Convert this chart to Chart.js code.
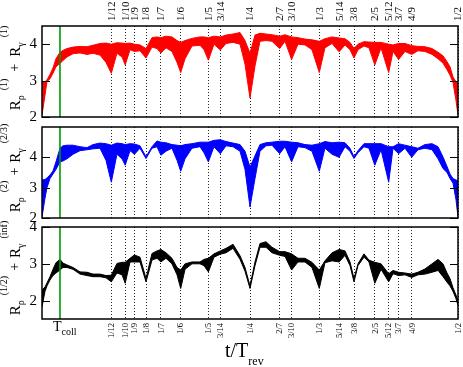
<!DOCTYPE html>
<html><head><meta charset="utf-8">
<script src="https://cdn.jsdelivr.net/npm/chart.js@4.4.1/dist/chart.umd.min.js"></script>
<style>
html,body{margin:0;padding:0;background:#fff;}
#wrap{position:relative;width:463px;height:367px;overflow:hidden;background:#fff;}
#wrap canvas{position:absolute;left:0;top:0;}
</style></head><body>
<div id="wrap">
<canvas id="c1" width="463" height="367"></canvas>
<canvas id="c2" width="463" height="367"></canvas>
<canvas id="c3" width="463" height="367"></canvas>
</div>
<script>
// time axis nodes (t / T_rev)
const tValues = [0, 0.0036, 0.006, 0.0096, 0.0132, 0.0168, 0.0216, 0.0252, 0.03, 0.0373,
 0.0457, 0.0541, 0.0613, 0.0697, 0.0769, 0.0833, 0.0901, 0.0962, 0.1, 0.1058,
 0.1111, 0.1178, 0.125, 0.1322, 0.1382, 0.1429, 0.149, 0.1562, 0.1623, 0.1667,
 0.1719, 0.1803, 0.1899, 0.1947, 0.2, 0.2067, 0.2143, 0.2212, 0.2296, 0.238,
 0.244, 0.25, 0.256, 0.262, 0.2692, 0.2764, 0.2857, 0.2921, 0.3, 0.3077,
 0.3161, 0.3245, 0.3333, 0.3401, 0.3486, 0.3571, 0.3642, 0.3702, 0.375, 0.3798,
 0.387, 0.393, 0.4, 0.4075, 0.4167, 0.4219, 0.4286, 0.4363, 0.4444, 0.4519,
 0.4603, 0.4688, 0.476, 0.482, 0.4868, 0.4904, 0.494, 0.4976, 0.5];

// panel 1 (red): R_rho^(1) + R_gamma^(1), lower / upper envelope
const redLow = [2.05, 2.6, 2.97, 3.05, 3.2, 3.38, 3.47, 3.55, 3.65, 3.74,
 3.76, 3.72, 3.75, 3.7, 3.5, 3.2, 3.75, 3.65, 3.43, 3.85,
 3.8, 3.82, 3.62, 3.92, 3.88, 3.76, 3.9, 3.8, 3.5, 3.22,
 3.6, 3.95, 3.97, 3.85, 3.56, 4.0, 3.84, 4.02, 4.05, 4.0,
 3.45, 2.52, 3.4, 4.08, 4.1, 4.08, 3.88, 4.08, 3.58, 4.0,
 3.98, 3.85, 3.22, 3.9, 4.02, 3.79, 3.98, 3.85, 3.62, 3.85,
 3.95, 3.9, 3.43, 3.9, 3.22, 3.8, 3.58, 3.8, 3.72, 3.82,
 3.8, 3.72, 3.6, 3.48, 3.3, 3.15, 2.95, 2.45, 2.05];
const redHigh = [2.95, 2.97, 3.02, 3.17, 3.35, 3.6, 3.78, 3.83, 3.88, 3.92,
 3.94, 3.93, 3.97, 4.02, 4.03, 4.0, 4.04, 4.03, 4.02, 4.03,
 4.0, 3.98, 3.88, 4.18, 4.2, 4.18, 4.22, 4.2, 4.1, 4.05,
 4.1, 4.16, 4.2, 4.2, 4.18, 4.22, 4.2, 4.25, 4.28, 4.32,
 4.1, 3.75, 4.25, 4.3, 4.28, 4.26, 4.22, 4.26, 4.2, 4.18,
 4.14, 4.12, 4.08, 4.15, 4.2, 4.17, 4.15, 4.05, 3.88, 4.0,
 4.07, 4.06, 4.05, 4.05, 4.0, 3.98, 4.02, 4.02, 3.96, 3.94,
 3.93, 3.88, 3.78, 3.68, 3.52, 3.38, 3.1, 2.97, 2.95];

// panel 2 (blue): R_rho^(2) + R_gamma^(2/3)
const blueLow = [2.03, 2.65, 3.0, 3.3, 3.45, 3.6, 3.85, 3.88, 3.95, 4.1,
 4.22, 4.25, 4.28, 4.3, 3.9, 3.18, 4.1, 3.95, 3.74, 4.22,
 4.1, 4.3, 3.96, 4.3, 4.35, 4.07, 4.2, 4.3, 3.9, 3.54,
 3.95, 4.3, 4.35, 4.15, 3.85, 4.35, 4.12, 4.38, 4.35, 4.2,
 3.6, 2.36, 3.3, 4.2, 4.38, 4.4, 4.12, 4.35, 3.85, 4.35,
 4.32, 4.2, 3.54, 4.3, 4.1, 4.0, 4.35, 4.2, 3.96, 4.15,
 4.35, 4.3, 3.74, 4.25, 3.18, 4.3, 4.12, 4.3, 4.0, 4.25,
 4.3, 4.25, 3.95, 3.63, 3.5, 3.3, 3.15, 2.6, 2.03];
const blueHigh = [3.25, 3.27, 3.32, 3.42, 3.55, 3.85, 4.3, 4.38, 4.4, 4.4,
 4.35, 4.32, 4.42, 4.47, 4.45, 4.4, 4.47, 4.45, 4.42, 4.45,
 4.44, 4.38, 4.02, 4.35, 4.54, 4.5, 4.48, 4.42, 4.4, 4.38,
 4.42, 4.45, 4.5, 4.5, 4.5, 4.56, 4.58, 4.52, 4.47, 4.42,
 4.2, 3.68, 4.05, 4.42, 4.48, 4.5, 4.53, 4.53, 4.5, 4.48,
 4.42, 4.4, 4.45, 4.52, 4.48, 4.5, 4.48, 4.3, 4.02, 4.22,
 4.45, 4.45, 4.45, 4.45, 4.35, 4.35, 4.45, 4.4, 4.35, 4.3,
 4.42, 4.45, 4.35, 4.01, 3.7, 3.45, 3.3, 3.25, 3.24];

// panel 3 (black): R_rho^(1/2) + R_gamma^(inf)
const blackLow = [1.83, 2.25, 2.4, 2.56, 2.68, 2.75, 2.83, 2.9, 2.9, 2.85,
 2.72, 2.68, 2.65, 2.65, 2.62, 2.51, 2.75, 2.7, 2.47, 3.05,
 3.05, 3.05, 2.51, 3.1, 3.15, 3.05, 3.15, 3.0, 2.7, 2.33,
 2.85, 3.0, 3.0, 2.95, 2.78, 3.18, 3.26, 3.3, 3.42, 3.12,
 2.8, 2.33, 2.95, 3.45, 3.45, 3.3, 3.23, 3.2, 2.83, 3.05,
 3.05, 2.9, 2.33, 3.03, 3.08, 3.05, 3.23, 2.95, 2.51, 2.95,
 3.18, 3.05, 2.47, 2.85, 2.51, 2.73, 2.68, 2.7, 2.63, 2.7,
 2.72, 2.77, 2.82, 2.65, 2.5, 2.4, 2.25, 2.05, 1.87];
const blackHigh = [2.29, 2.37, 2.48, 2.65, 2.85, 3.03, 3.12, 3.02, 2.97, 2.9,
 2.78, 2.77, 2.72, 2.72, 2.68, 2.69, 3.01, 3.04, 3.04, 3.15,
 3.24, 3.18, 2.6, 3.28, 3.35, 3.39, 3.3, 3.15, 2.9, 2.83,
 3.0, 3.05, 3.05, 3.12, 3.15, 3.27, 3.35, 3.42, 3.53, 3.22,
 2.9, 2.4, 3.05, 3.55, 3.6, 3.45, 3.33, 3.33, 3.27, 3.15,
 3.15, 3.04, 2.83, 3.08, 3.3, 3.39, 3.35, 3.05, 2.6, 3.0,
 3.27, 3.1, 3.04, 3.0, 2.73, 2.82, 2.77, 2.75, 2.72, 2.77,
 2.86, 3.0, 3.12, 3.0, 2.75, 2.6, 2.35, 2.15, 2.0];

// fractional revival times (tick positions) and their labels
const fracValues = [0.08333, 0.1, 0.11111, 0.125, 0.14286, 0.16667, 0.2, 0.21429, 0.25, 0.28571,
 0.3, 0.33333, 0.35714, 0.375, 0.4, 0.41667, 0.42857, 0.44444, 0.5];
const fracLabels = ['1/12','1/10','1/9','1/8','1/7','1/6','1/5','3/14','1/4','2/7',
 '3/10','1/3','5/14','3/8','2/5','5/12','3/7','4/9','1/2'];
const yTicks = [2, 3, 4];
const tColl = 0.0216;

const SERIF = '"Liberation Serif", "Times New Roman", serif';

function pts(arr){ return tValues.map((t,i)=>({x:t, y:arr[i]})); }

function drawYTitle(ctx, parts, baseX, centerY){
  ctx.save();
  ctx.fillStyle = '#000';
  ctx.textBaseline = 'alphabetic';
  ctx.textAlign = 'left';
  let total = 0;
  parts.forEach(p => { ctx.font = p.s + 'px ' + SERIF; p.w = ctx.measureText(p.t).width; total += p.w + p.g; });
  ctx.translate(baseX, centerY + total/2);
  ctx.rotate(-Math.PI/2);
  let x = 0;
  parts.forEach(p => { ctx.font = p.s + 'px ' + SERIF; ctx.fillText(p.t, x, p.dy); x += p.w + p.g; });
  ctx.restore();
}

function drawFracLabels(chart, cfg){
  const {ctx, chartArea: a, scales} = chart;
  ctx.save();
  ctx.fillStyle = '#000';
  ctx.font = cfg.xFont + 'px ' + SERIF;
  ctx.textBaseline = 'middle';
  fracValues.forEach((v, i) => {
    const px = scales.x.getPixelForValue(v);
    ctx.save();
    if (cfg.xPos === 'top') {
      ctx.translate(px + 0.5, a.top - cfg.xPad);
      ctx.rotate(-Math.PI/2);
      ctx.textAlign = 'left';
    } else {
      ctx.translate(px + 0.5, a.bottom + cfg.xPad);
      ctx.rotate(-Math.PI/2);
      ctx.textAlign = 'right';
    }
    ctx.fillText(fracLabels[i], 0, 0);
    ctx.restore();
  });
  ctx.restore();
}

function framePlugin(cfg){
  return {
    id: 'frame' + cfg.id,
    afterDatasetsDraw(chart){
      const {ctx, chartArea: a, scales} = chart;
      ctx.save();
      const gx = scales.x.getPixelForValue(tColl);
      ctx.strokeStyle = '#009a00'; ctx.lineWidth = 1.6;
      ctx.beginPath(); ctx.moveTo(gx, a.top); ctx.lineTo(gx, a.bottom); ctx.stroke();
      ctx.strokeStyle = '#000'; ctx.lineWidth = 1;
      yTicks.forEach(v => {
        const py = Math.round(scales.y.getPixelForValue(v)) + 0.5;
        ctx.beginPath();
        ctx.moveTo(a.left, py); ctx.lineTo(a.left + 8, py);
        ctx.moveTo(a.right - 8, py); ctx.lineTo(a.right, py);
        ctx.stroke();
      });
      ctx.lineWidth = 1.5; ctx.strokeStyle = '#000';
      ctx.strokeRect(a.left, a.top, a.right - a.left, a.bottom - a.top);
      ctx.restore();
    },
    afterDraw(chart){
      const ctx = chart.ctx;
      drawYTitle(ctx, cfg.title, 20, cfg.titleCenter);
      if (cfg.xLabels) drawFracLabels(chart, cfg);
      if (cfg.bottomTexts){
        ctx.save();
        ctx.fillStyle = '#000'; ctx.textAlign = 'left'; ctx.textBaseline = 'alphabetic';
        const gx = chart.scales.x.getPixelForValue(tColl);
        ctx.font = '14px ' + SERIF;
        const tw = ctx.measureText('T').width;
        ctx.fillText('T', gx - 7, 331);
        ctx.font = '10px ' + SERIF;
        ctx.fillText('coll', gx - 7 + tw, 335);
        ctx.font = '20px ' + SERIF;
        const w2 = ctx.measureText('t/T').width;
        ctx.fillText('t/T', 225, 357);
        ctx.font = '12px ' + SERIF;
        ctx.fillText('rev', 225 + w2, 365);
        ctx.restore();
      }
    }
  };
}

function makePanel(cfg){
  return new Chart(document.getElementById(cfg.id), {
    type: 'line',
    data: {datasets: [
      {data: pts(cfg.lo), borderColor: cfg.color, backgroundColor: cfg.color, borderWidth: 1, pointRadius: 0, fill: false, tension: 0},
      {data: pts(cfg.hi), borderColor: cfg.color, backgroundColor: cfg.color, borderWidth: 1, pointRadius: 0, fill: '-1', tension: 0}
    ]},
    options: {
      responsive: false, animation: false, devicePixelRatio: 1, events: [],
      layout: {padding: {left: 0, right: 5, top: cfg.padTop, bottom: cfg.padBottom}},
      plugins: {legend: {display: false}, tooltip: {enabled: false}},
      scales: {
        x: {
          type: 'linear', position: cfg.xPos, min: 0, max: 0.5,
          afterBuildTicks: s => { s.ticks = fracValues.map(v => ({value: v})); },
          afterFit: s => { s.height = cfg.xHeight; },
          grid: {display: true, drawTicks: false, drawOnChartArea: true, color: '#222', lineWidth: 1, borderDash: [1, 2]},
          border: {display: false, dash: [1, 2]},
          ticks: {display: false}
        },
        y: {
          min: cfg.yMin, max: cfg.yMax,
          afterBuildTicks: s => { s.ticks = yTicks.map(v => ({value: v})); },
          afterFit: s => { s.width = 42; },
          grid: {display: false, drawTicks: false},
          border: {display: false},
          ticks: {padding: 5, color: '#000', font: {family: SERIF, size: 15}}
        }
      }
    },
    plugins: [framePlugin(cfg)]
  });
}

makePanel({id: 'c1', lo: redLow, hi: redHigh, color: '#ff0000', yMin: 2, yMax: 4.5,
  xPos: 'top', xLabels: true, xFont: 11, xPad: 5, xHeight: 26, padTop: 0, padBottom: 250,
  titleCenter: 68,
  title: [{t:'R',s:15,dy:0,g:0},{t:'ρ',s:10,dy:4,g:5},{t:'(1)',s:10,dy:-13,g:7},{t:'+',s:14,dy:-1,g:7},
          {t:'R',s:15,dy:0,g:0},{t:'γ',s:10,dy:4,g:5},{t:'(1)',s:10,dy:-13,g:0}]});
makePanel({id: 'c2', lo: blueLow, hi: blueHigh, color: '#0000ff', yMin: 2, yMax: 5,
  xPos: 'bottom', xLabels: false, xHeight: 0, padTop: 127, padBottom: 149,
  titleCenter: 168,
  title: [{t:'R',s:15,dy:0,g:0},{t:'ρ',s:10,dy:4,g:5},{t:'(2)',s:10,dy:-13,g:5},{t:'+',s:14,dy:-1,g:5},
          {t:'R',s:15,dy:0,g:0},{t:'γ',s:10,dy:4,g:5},{t:'(2/3)',s:10,dy:-13,g:0}]});
makePanel({id: 'c3', lo: blackLow, hi: blackHigh, color: '#000000', yMin: 1.5, yMax: 4,
  xPos: 'bottom', xLabels: true, xFont: 8.5, xPad: 4, xHeight: 48, padTop: 227, padBottom: 0,
  titleCenter: 268, bottomTexts: true,
  title: [{t:'R',s:15,dy:0,g:0},{t:'ρ',s:10,dy:4,g:5},{t:'(1/2)',s:10,dy:-13,g:5},{t:'+',s:14,dy:-1,g:5},
          {t:'R',s:15,dy:0,g:0},{t:'γ',s:10,dy:4,g:5},{t:'(inf)',s:10,dy:-13,g:0}]});
</script>
</body></html>
